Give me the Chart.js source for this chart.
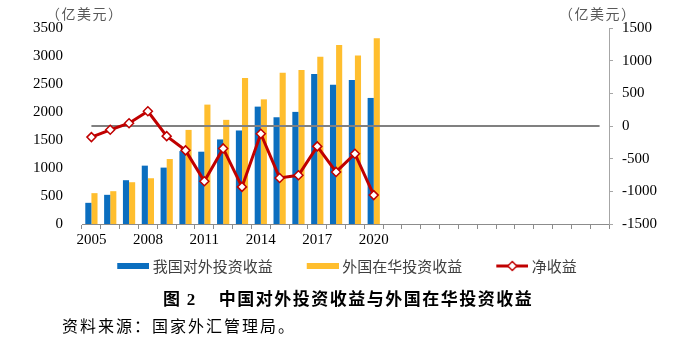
<!DOCTYPE html>
<html><head><meta charset="utf-8">
<script src="https://cdn.jsdelivr.net/npm/chart.js@4.4.1/dist/chart.umd.min.js"></script>
<style>
html,body{margin:0;padding:0;background:#fff;}
#wrap{position:relative;width:700px;height:358px;overflow:hidden;background:#fff;}
#c{position:absolute;left:0;top:0;}
.unit{position:absolute;top:5px;font:14px "Noto Sans CJK SC";color:#595959;line-height:16px;letter-spacing:1.5px;white-space:nowrap;}
#title{position:absolute;left:163px;top:287px;font:bold 17px "Noto Sans CJK SC";letter-spacing:1.5px;line-height:22px;white-space:nowrap;color:#000;}
#title .n{font-family:"Liberation Serif";font-weight:bold;}
#src{position:absolute;left:62px;top:314px;font:16px "Noto Sans CJK SC";letter-spacing:2px;line-height:22px;white-space:nowrap;color:#000;}
</style></head><body>
<div id="wrap">
<canvas id="c" width="700" height="300" style="width:700px;height:300px"></canvas>
<div class="unit" style="left:46px">（亿美元）</div>
<div class="unit" style="left:559px">（亿美元）</div>
<div id="title">图 <span class="n">2</span><span style="margin-left:22px">中国对外投资收益与外国在华投资收益</span></div>
<div id="src">资料来源：国家外汇管理局。</div>
</div>
<script>
const categories = ['2005','2006','2007','2008','2009','2010','2011','2012','2013','2014','2015','2016','2017','2018','2019','2020',
  '2021','2022','2023','2024','2025','2026','2027','2028','2029','2030','2031','2032'];
const xTickLabels = ['2005','','','2008','','','2011','','','2014','','','2017','','','2020',
  '','','','','','','','','','','',''];
const outwardIncome = [378, 521, 782, 1042, 1007, 1302, 1291, 1510, 1670, 2096, 1906, 2002, 2677, 2487, 2571, 2251];
const inwardIncome  = [551, 586, 746, 817, 1160, 1680, 2132, 1860, 2606, 2226, 2700, 2748, 2985, 3198, 3008, 3317];
const netIncome     = [-170, -58, 43, 225, -155, -373, -845, -343, -932, -119, -795, -754, -312, -703, -424, -1058];
const zeroLine = [0,0,0,0,0,0,0,0,0,0,0,0,0,0,0,0,0,0,0,0,0,0,0,0,0,0,0,0];
const seriesNames = ['我国对外投资收益','外国在华投资收益','净收益'];

const BLUE = '#0B6EBF', YELLOW = '#FFBE2E', RED = '#C00000', GRAY = '#808080';

function swatch(kind){
  const c = document.createElement('canvas');
  c.width = 62; c.height = 12;
  const g = c.getContext('2d');
  if (kind === 'net') {
    g.strokeStyle = RED; g.lineWidth = 3;
    g.beginPath(); g.moveTo(30, 6); g.lineTo(62, 6); g.stroke();
    g.fillStyle = '#fff'; g.lineWidth = 1.5;
    g.beginPath(); g.moveTo(46, 1.5); g.lineTo(50.5, 6); g.lineTo(46, 10.5); g.lineTo(41.5, 6); g.closePath();
    g.fill(); g.stroke();
  } else {
    g.fillStyle = kind;
    g.fillRect(30, 3, 32, 6);
  }
  return c;
}

const ctx = document.getElementById('c');
new Chart(ctx, {
  type: 'bar',
  data: {
    labels: categories,
    datasets: [
      { type:'line', label: seriesNames[2], data: netIncome, yAxisID:'y1',
        borderColor: RED, borderWidth: 3, pointStyle:'rectRot', pointRadius: 4.5,
        pointBackgroundColor:'#fff', pointBorderColor: RED, pointBorderWidth: 1.5, tension: 0 },
      { type:'line', label: 'zero', data: zeroLine, yAxisID:'y1',
        borderColor: GRAY, borderWidth: 2, pointRadius: 0 },
      { type:'bar', label: seriesNames[0], data: outwardIncome, yAxisID:'y',
        backgroundColor: BLUE, categoryPercentage: 0.65, barPercentage: 1.0 },
      { type:'bar', label: seriesNames[1], data: inwardIncome, yAxisID:'y',
        backgroundColor: YELLOW, categoryPercentage: 0.65, barPercentage: 1.0 }
    ]
  },
  options: {
    responsive: false,
    animation: false,
    layout: { padding: { top: 27, left: 0, right: 32, bottom: 16.5 } },
    plugins: {
      tooltip: { enabled: false },
      legend: {
        position: 'bottom',
        labels: {
          usePointStyle: true,
          pointStyleWidth: 54,
          padding: 8,
          color: '#404040',
          font: { family: '"Noto Sans CJK SC"', size: 15 },
          generateLabels(chart) {
            const order = [2, 3, 0];
            const kinds = {2: BLUE, 3: YELLOW, 0: 'net'};
            return order.map(i => ({
              text: chart.data.datasets[i].label,
              pointStyle: swatch(kinds[i]),
              datasetIndex: i,
              fillStyle: 'rgba(0,0,0,0)', strokeStyle: 'rgba(0,0,0,0)', lineWidth: 0,
              hidden: false, fontColor: '#404040'
            }));
          }
        }
      }
    },
    scales: {
      x: {
        type: 'category',
        offset: true,
        grid: { display: true, drawOnChartArea: false, drawTicks: true, tickLength: 5, color: '#8c8c8c', offset: true },
        border: { display: true, color: '#8c8c8c', width: 1 },
        ticks: { autoSkip: false, maxRotation: 0, minRotation: 0, padding: 2, color: '#000',
          font: { family: '"Liberation Serif"', size: 15 },
          callback: (v, i) => xTickLabels[i] },
        afterFit: s => { s.height = 26.5; }
      },
      y: {
        position: 'left', min: 0, max: 3500,
        grid: { display: false, drawTicks: false },
        border: { display: false },
        ticks: { stepSize: 500, padding: 19, color: '#000',
          font: { family: '"Liberation Serif"', size: 15 },
          callback: v => String(v) },
        afterFit: s => { s.width = 82; }
      },
      y1: {
        position: 'right', min: -1500, max: 1500,
        grid: { display: true, drawOnChartArea: false, drawTicks: true, tickLength: 4, color: '#a6a6a6' },
        border: { display: true, color: '#a6a6a6', width: 1 },
        ticks: { stepSize: 500, padding: 9, color: '#000',
          font: { family: '"Liberation Serif"', size: 15 },
          callback: v => String(v) },
        afterFit: s => { s.width = 59; }
      }
    }
  }
});
</script>
</body></html>
